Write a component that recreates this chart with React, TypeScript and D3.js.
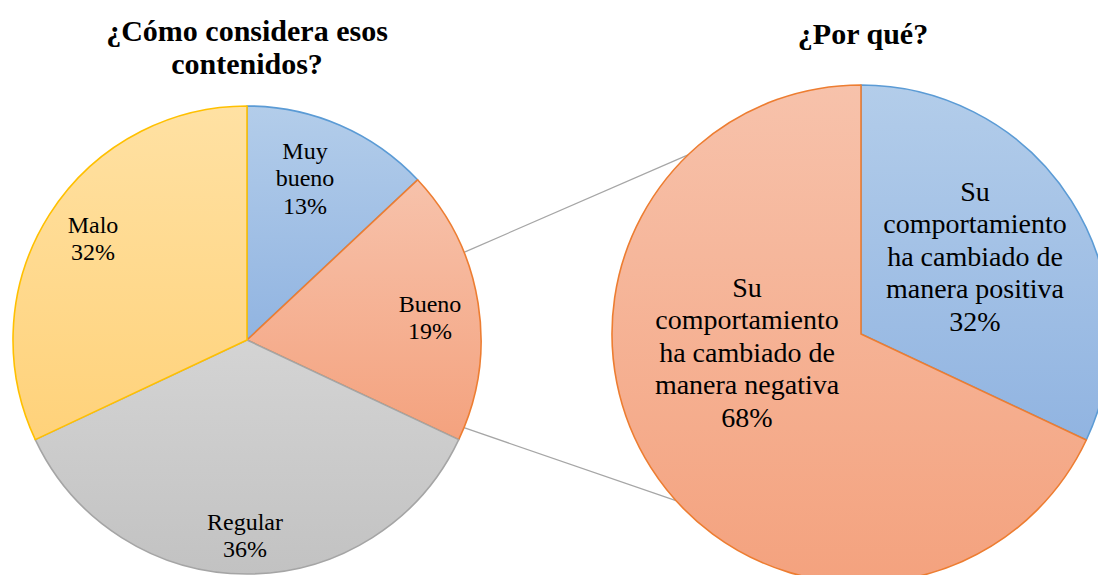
import * as d3 from 'd3';

// datos del primer gráfico
const mainCategories = ['Muy bueno', 'Bueno', 'Regular', 'Malo'];
const mainValues = [13, 19, 36, 32];
const mainLines = [['Muy', 'bueno'], ['Bueno'], ['Regular'], ['Malo']];

// datos del segundo gráfico (desglose de "Bueno")
const subCategories = ['Su comportamiento ha cambiado de manera positiva', 'Su comportamiento ha cambiado de manera negativa'];
const subValues = [32, 68];
const subLines = [
  ['Su', 'comportamiento', 'ha cambiado de', 'manera positiva'],
  ['Su', 'comportamiento', 'ha cambiado de', 'manera negativa'],
];

const titles = [['¿Cómo considera esos', 'contenidos?'], ['¿Por qué?']];

const palette: Record<string, { top: string; bottom: string; stroke: string }> = {
  blue: { top: '#b3cdea', bottom: '#91b4e1', stroke: '#5b9bd5' },
  orange: { top: '#f7c2ab', bottom: '#f4a27e', stroke: '#ed7d31' },
  gray: { top: '#d4d4d4', bottom: '#c2c2c2', stroke: '#a5a5a5' },
  yellow: { top: '#ffe1a3', bottom: '#ffd27a', stroke: '#ffc000' },
};
const mainColors = ['blue', 'orange', 'gray', 'yellow'];
const subColors = ['blue', 'orange'];

const FONT = 'Liberation Serif';

const left = { cx: 247, cy: 340, r: 234 };
const right = { cx: 861, cy: 334, r: 249 };

const pie = d3.pie<number>().value(d => d).sort(null);
const toRad = (deg: number) => (deg * Math.PI) / 180;
const polar = (c: { cx: number; cy: number }, r: number, a: number) =>
  [c.cx + r * Math.sin(a), c.cy - r * Math.cos(a)];

type Center = { cx: number; cy: number; r: number };

const Pie = ({ center, values, colors, lines, labelPos, fontSize, lineH }: {
  center: Center; values: number[]; colors: string[]; lines: string[][];
  labelPos: [number, number][]; fontSize: number; lineH: number;
}) => {
  const arc = d3.arc<d3.PieArcDatum<number>>().innerRadius(0).outerRadius(center.r);
  const arcs = pie(values);
  return (
    <g transform={`translate(${center.cx},${center.cy})`}>
      {arcs.map((a, i) => (
        <path key={i} d={arc(a) || ''} fill={`url(#grad-${colors[i]})`}
          stroke={palette[colors[i]].stroke} strokeWidth={1.6} strokeLinejoin="round" />
      ))}
      {arcs.map((a, i) => {
        const [dx, dy] = labelPos[i];
        const txt = [...lines[i], `${values[i]}%`];
        return (
          <text key={`t${i}`} textAnchor="middle" fill="#000" style={{ fontFamily: FONT, fontSize }}>
            {txt.map((s, j) => (
              <tspan key={j} x={dx} y={dy + (j - (txt.length - 1) / 2) * lineH} dy="0.35em">{s}</tspan>
            ))}
          </text>
        );
      })}
    </g>
  );
};

const App = () => {
  const width = 1098;
  const height = 575;

  // líneas de conexión
  const b = pie(mainValues)[1];
  const mid = (b.startAngle + b.endAngle) / 2;
  const lp1 = polar(left, left.r, mid - toRad(13));
  const lp2 = polar(left, left.r, mid + toRad(31));
  const rp1 = polar(right, right.r, toRad(-44));
  const rp2 = polar(right, right.r, toRad(-132));

  return (
    <div style={{ position: 'absolute', left: 0, top: 0, width, height, overflow: 'hidden', background: '#fff' }}>
      <svg width={width} height={height} style={{ display: 'block' }}>
        <defs>
          {Object.entries(palette).map(([k, c]) => (
            <linearGradient key={k} id={`grad-${k}`} x1={0} y1={0} x2={0} y2={1}>
              <stop offset="0%" stopColor={c.top} />
              <stop offset="100%" stopColor={c.bottom} />
            </linearGradient>
          ))}
        </defs>
        {[[lp1, rp1], [lp2, rp2]].map(([p, q], i) => (
          <line key={i} x1={p[0]} y1={p[1]} x2={q[0]} y2={q[1]} stroke="#a6a6a6" strokeWidth={1.2} />
        ))}
        <Pie center={left} values={mainValues} colors={mainColors} lines={mainLines}
          labelPos={[[58, -162], [183, -23], [-2, 195], [-154, -102]]} fontSize={24} lineH={27.5} />
        <Pie center={right} values={subValues} colors={subColors} lines={subLines}
          labelPos={[[114, -78], [-114, 18]]} fontSize={28} lineH={32.5} />
        <text textAnchor="middle" fill="#000" style={{ fontFamily: FONT, fontSize: 30, fontWeight: 'bold' }}>
          {titles[0].map((s, j) => (
            <tspan key={j} x={left.cx} y={30 + j * 33} dy="0.35em">{s}</tspan>
          ))}
        </text>
        <text textAnchor="middle" fill="#000" x={863} y={33} dy="0.35em"
          style={{ fontFamily: FONT, fontSize: 30, fontWeight: 'bold' }}>{titles[1][0]}</text>
      </svg>
    </div>
  );
};

export default App;
